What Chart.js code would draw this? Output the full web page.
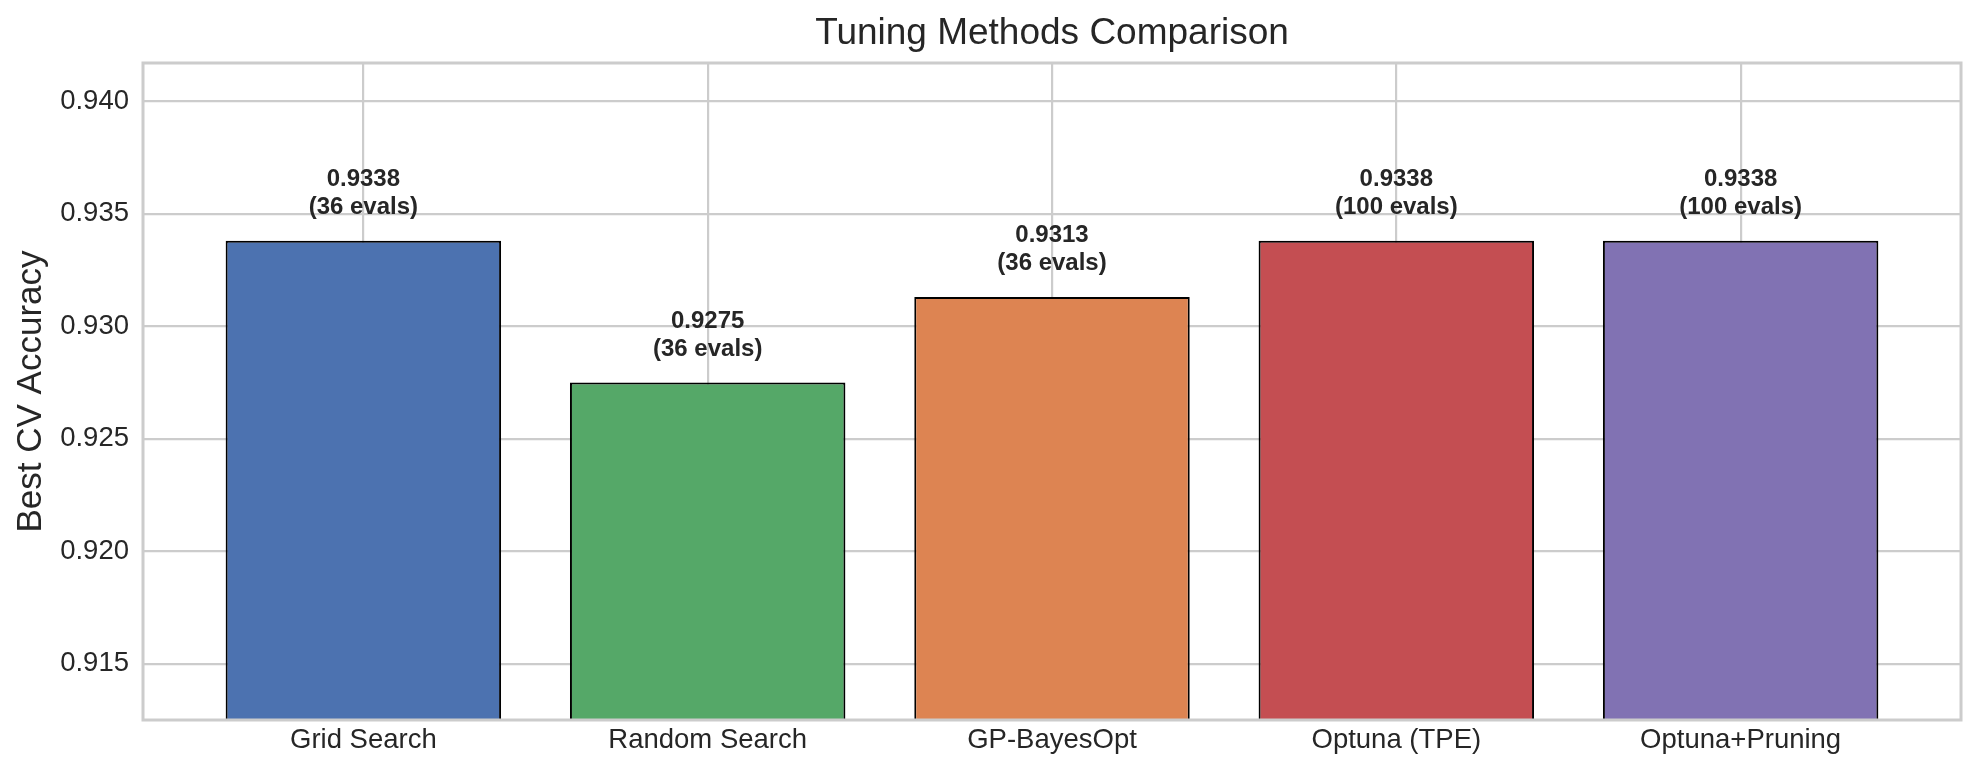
<!DOCTYPE html>
<html>
<head>
<meta charset="utf-8">
<script src="https://cdn.jsdelivr.net/npm/chart.js@4/dist/chart.umd.min.js"></script>
<style>
  html, body { margin: 0; padding: 0; background: #ffffff; }
  #wrap { width: 1980px; height: 776px; position: relative; }
</style>
</head>
<body>
<div id="wrap"><canvas id="c"></canvas></div>
<script>
// ---- data ----
const methods = ["Grid Search", "Random Search", "GP-BayesOpt", "Optuna (TPE)", "Optuna+Pruning"];
const accuracy = [0.9338, 0.9275, 0.9313, 0.9338, 0.9338];
const evals = [36, 36, 36, 100, 100];
const yTicks = [0.915, 0.920, 0.925, 0.930, 0.935, 0.940];
const barColors = ["#4C72B0", "#55A868", "#DD8452", "#C44E52", "#8172B3"];

const FONT = "'Liberation Sans', Arial, Helvetica, sans-serif";
const TEXT = "#262626";
const GRID = "#cccccc";

const points = methods.map((m, i) => ({ x: i, y: accuracy[i] }));

const labelPlugin = {
  id: "barLabels",
  afterDatasetsDraw(chart) {
    const ctx = chart.ctx;
    const meta = chart.getDatasetMeta(0);
    ctx.save();
    ctx.fillStyle = TEXT;
    ctx.textAlign = "center";
    ctx.textBaseline = "alphabetic";
    ctx.font = "bold 24px " + FONT;
    meta.data.forEach((el, i) => {
      ctx.fillText(accuracy[i].toFixed(4), el.x, el.y - 55);
      ctx.fillText("(" + evals[i] + " evals)", el.x, el.y - 27);
    });
    ctx.restore();
  }
};

const framePlugin = {
  id: "frame",
  afterDraw(chart) {
    const a = chart.chartArea;
    const ctx = chart.ctx;
    ctx.save();
    ctx.strokeStyle = GRID;
    ctx.lineWidth = 3;
    ctx.strokeRect(a.left, a.top, a.right - a.left, a.bottom - a.top);
    ctx.restore();
  }
};

new Chart(document.getElementById("c"), {
  type: "bar",
  data: {
    datasets: [{
      data: points,
      backgroundColor: barColors,
      borderColor: "#000000",
      borderWidth: 2,
      borderSkipped: false,
      categoryPercentage: 1.0,
      barPercentage: 0.8
    }]
  },
  options: {
    responsive: true,
    maintainAspectRatio: false,
    devicePixelRatio: 1,
    animation: false,
    layout: { padding: { left: 0, right: 19, top: 0, bottom: 0 } },
    plugins: {
      legend: { display: false },
      tooltip: { enabled: false },
      title: {
        display: true,
        text: "Tuning Methods Comparison",
        color: TEXT,
        fullSize: false,
        font: { family: FONT, size: 37, weight: "normal", lineHeight: 1.2 },
        padding: { top: 12, bottom: 6.6 }
      }
    },
    scales: {
      x: {
        type: "linear",
        min: -0.64,
        max: 4.64,
        offset: false,
        afterBuildTicks(scale) {
          scale.ticks = methods.map((m, i) => ({ value: i }));
        },
        afterFit(scale) { scale.height = 56; },
        ticks: {
          callback: (v) => methods[v] !== undefined ? methods[v] : "",
          color: TEXT,
          font: { family: FONT, size: 27.5 },
          padding: 4,
          maxRotation: 0,
          autoSkip: false
        },
        grid: { color: GRID, lineWidth: 2.2, drawTicks: false, offset: false },
        border: { display: false }
      },
      y: {
        type: "linear",
        min: 0.9125,
        max: 0.9417,
        afterBuildTicks(scale) {
          scale.ticks = yTicks.map(v => ({ value: v }));
        },
        afterFit(scale) { scale.width = 143; },
        ticks: {
          callback: (v) => v.toFixed(3),
          color: TEXT,
          font: { family: FONT, size: 27.5 },
          padding: 14
        },
        grid: { color: GRID, lineWidth: 2.2, drawTicks: false },
        border: { display: false },
        title: {
          display: true,
          text: "Best CV Accuracy",
          color: TEXT,
          font: { family: FONT, size: 35, lineHeight: 1.2 },
          padding: { top: 10, bottom: 0 }
        }
      }
    }
  },
  plugins: [labelPlugin, framePlugin]
});
</script>
</body>
</html>
